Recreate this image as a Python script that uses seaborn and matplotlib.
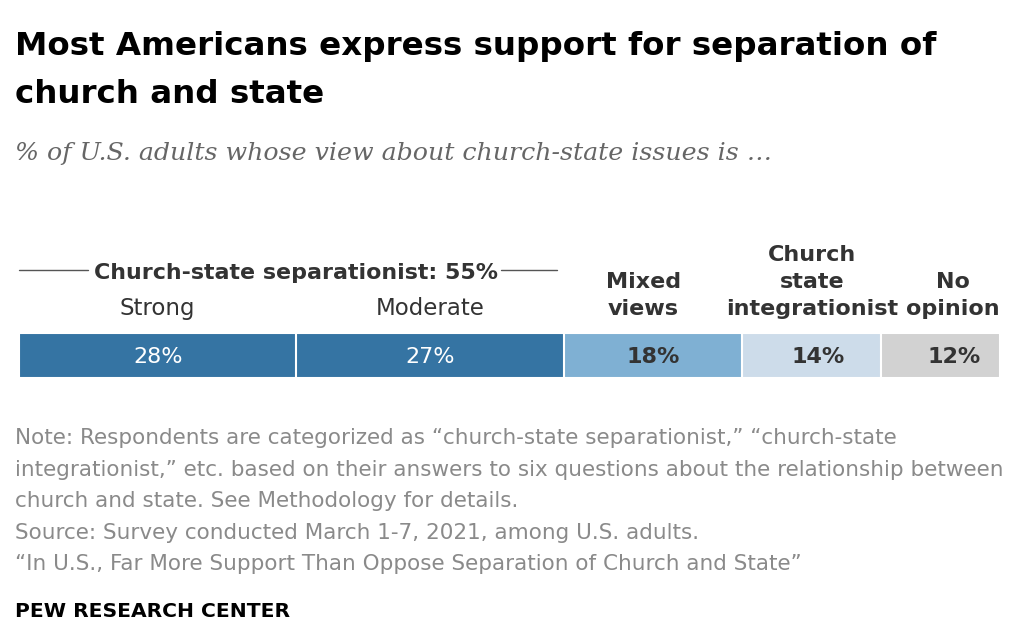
import numpy as np
import pandas as pd
import seaborn as sns
import matplotlib.pyplot as plt

# data
categories = ['Strong', 'Moderate', 'Mixed views', 'Church state integrationist', 'No opinion']
header_labels = ['Strong', 'Moderate', 'Mixed\nviews', 'Church\nstate\nintegrationist', 'No\nopinion']
values = [28, 27, 18, 14, 12]
separationist_total = 55
colors = ['#3574a3', '#3574a3', '#7fb0d3', '#cddcea', '#d2d2d2']
value_colors = ['white', 'white', '#333333', '#333333', '#333333']
value_weights = ['normal', 'normal', 'bold', 'bold', 'bold']

sns.set_theme(style='white')
plt.rcParams['font.family'] = ['DejaVu Sans']

W, H = 1024, 642
fig = plt.figure(figsize=(W / 100, H / 100), dpi=100)

# axes covers just the bar (pixels 19..1000 wide, 333..378 tall)
ax = fig.add_axes([19 / W, (H - 378) / H, 981 / W, 45 / H])

df = pd.DataFrame({'cat': categories, 'val': values, 'color': colors})
df['end'] = df['val'].cumsum()
df['start'] = df['end'] - df['val']
total = df['end'].iloc[-1]

# stacked bar: draw cumulative bars from longest to shortest
for i in range(len(df) - 1, -1, -1):
    sns.barplot(x=[df['end'].iloc[i]], y=['all'], orient='h', color=df['color'].iloc[i],
                saturation=1, width=1, edgecolor='white', linewidth=1.5, ax=ax)

ax.set_xlim(0, total)
ax.set_ylim(0.5, -0.5)
ax.axis('off')

# small nudges so labels sit where the original put them
value_shift = [0, 0, 0, 0.6, 1.4]

trans = ax.get_xaxis_transform()
for i, row in df.iterrows():
    mid = (row['start'] + row['end']) / 2 + value_shift[i]
    ax.text(mid, 0.47, f"{row['val']}%", transform=trans, ha='center', va='center',
            fontsize=16, color=value_colors[i], fontweight=value_weights[i])

# header labels above bar
for i, row in df.iterrows():
    mid = (row['start'] + row['end']) / 2
    if i < 2:
        ax.text(mid, 1.4, header_labels[i], transform=trans, ha='center', va='baseline',
                fontsize=16.5, color='#333333')
    elif i == len(df) - 1:
        ax.text(row['end'], 1.4, header_labels[i], transform=trans, ha='right', va='baseline',
                fontsize=16, color='#333333', fontweight='bold', multialignment='center',
                linespacing=1.45)
    else:
        if i == 2:
            mid -= 1.0
        ax.text(mid, 1.4, header_labels[i], transform=trans, ha='center', va='baseline',
                fontsize=16, color='#333333', fontweight='bold', multialignment='center',
                linespacing=1.45)

# group header for separationists
grp_mid = 28
ax.text(grp_mid, 2.2, f'Church-state separationist: {separationist_total}%', transform=trans,
        ha='center', va='baseline', fontsize=15.9, color='#333333', fontweight='bold')
ax.plot([0, 7.0], [2.4, 2.4], transform=trans, color='#555555', lw=1, clip_on=False)
ax.plot([48.6, 54.3], [2.4, 2.4], transform=trans, color='#555555', lw=1, clip_on=False)

# titles
fig.text(15 / W, 1 - 55 / H, 'Most Americans express support for separation of',
         fontsize=23.4, fontweight='bold', color='black', va='baseline')
fig.text(15 / W, 1 - 103 / H, 'church and state',
         fontsize=23.4, fontweight='bold', color='black', va='baseline')
fig.text(15 / W, 1 - 160 / H, '% of U.S. adults whose view about church-state issues is \u2026',
         fontsize=18.2, style='italic', color='#666666', va='baseline',
         family=['DejaVu Serif'])

notes = [
    'Note: Respondents are categorized as \u201cchurch-state separationist,\u201d \u201cchurch-state',
    'integrationist,\u201d etc. based on their answers to six questions about the relationship between',
    'church and state. See Methodology for details.',
    'Source: Survey conducted March 1-7, 2021, among U.S. adults.',
    '\u201cIn U.S., Far More Support Than Oppose Separation of Church and State\u201d',
]
for k, line in enumerate(notes):
    fig.text(15 / W, 1 - (444 + 31.6 * k) / H, line, fontsize=15.5, color='#8a8a8a', va='baseline')

fig.text(15 / W, 1 - 617 / H, 'PEW RESEARCH CENTER', fontsize=14.6, fontweight='bold',
         color='black', va='baseline')

fig.savefig('out.png', dpi=100)
